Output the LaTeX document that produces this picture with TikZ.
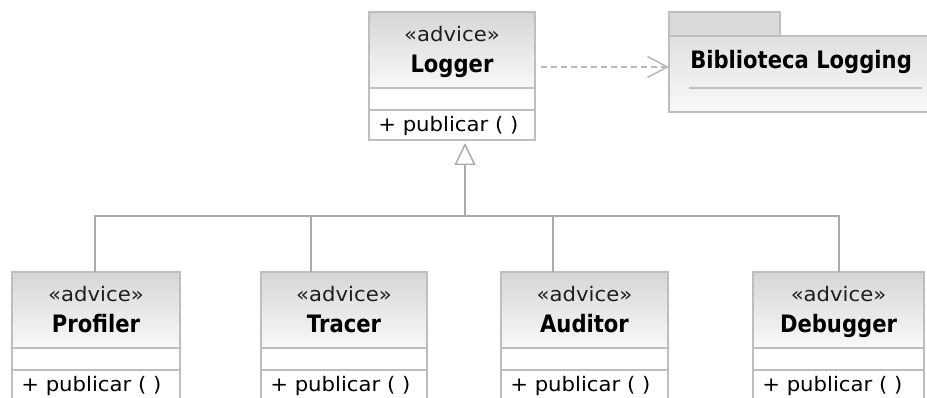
\documentclass[tikz,border=0pt]{standalone}
\usepackage{fontspec}
\setmainfont{DejaVu Sans}
\newfontfamily\regf{DejaVu Sans}[FakeStretch=1.06]
\newfontfamily\boldf{DejaVu Sans}[FakeStretch=0.88]
\usetikzlibrary{arrows.meta,calc}
\definecolor{bordc}{HTML}{BEBEBE}
\definecolor{linec}{HTML}{ABABAB}
\definecolor{depc}{HTML}{B8B8B8}
\definecolor{topc}{HTML}{D6D6D6}
\definecolor{botc}{HTML}{F9F9F9}
\definecolor{pkgtop}{HTML}{E0E0E0}
\definecolor{tabc}{HTML}{D9D9D9}
\definecolor{stc}{HTML}{1E1E1E}
\tikzset{
 boxbase/.style={draw=bordc, line width=1.1pt, inner sep=0pt, outer sep=0pt, anchor=north west},
 hdr/.style={boxbase, top color=topc, bottom color=botc, minimum height=57pt},
 attrc/.style={boxbase, fill=white, minimum height=16.5pt},
 opc/.style={boxbase, fill=white, minimum height=22.5pt},
 stereo/.style={anchor=base, inner sep=0pt, text=stc, font=\regf\fontsize{15pt}{17pt}\selectfont},
 title/.style={anchor=base, inner sep=0pt, font=\boldf\bfseries\fontsize{18pt}{20pt}\selectfont},
 optext/.style={anchor=base west, inner sep=0pt, font=\regf\fontsize{15pt}{17pt}\selectfont},
 genline/.style={draw=linec, line width=1.1pt},
 gentip/.style={-{Triangle[open, length=16.5pt, width=15.75pt, fill=white]}},
 dep/.style={draw=depc, line width=1.1pt, dash pattern=on 4.5pt off 3pt, -{Straight Barb[length=15pt, width=15.75pt]}},
 sepline/.style={draw=bordc, line width=1.1pt},
}
\newcommand\umlclass[5]{%
 \node[hdr, minimum width=#4] (#1) at (#2,#3) {};
 \node[attrc, minimum width=#4] (#1-attr) at (#1.south west) {};
 \node[opc, minimum width=#4] (#1-op) at (#1-attr.south west) {};
 \node[stereo] (#1-st) at ($(#1.north)+(0,30)$) {«advice»};
 \node[title] (#1-ti) at ($(#1.north)+(0,61)$) {#5};
 \node[optext] (#1-optx) at ($(#1-op.north west)+(9,22)$) {+ publicar ( )};
}
\begin{document}
\begin{tikzpicture}[x=0.75pt,y=-0.75pt]
\useasboundingbox (0,0) rectangle (927,398);
\clip (0,0) rectangle (927,398);
\umlclass{logger}{369}{12}{124.5pt}{Logger}
\umlclass{profiler}{12}{272}{126pt}{Profiler}
\umlclass{tracer}{261}{272}{124.5pt}{Tracer}
\umlclass{auditor}{501}{272}{125.25pt}{Auditor}
\umlclass{debugger}{753}{272}{128.25pt}{Debugger}
% package
\node[boxbase, fill=tabc, minimum width=83.25pt, minimum height=18pt] (pkgtab) at (669,12) {};
\node[boxbase, top color=pkgtop, bottom color=botc, minimum width=196pt, minimum height=57pt] (pkg) at (669,36) {};
\node[title, anchor=base west] (pkgname) at ($(pkg.north west)+(21,33)$) {Biblioteca Logging};
\draw[sepline] ($(pkg.north west)+(20,52)$) -- ($(pkg.north west)+(253,52)$);
% dependency
\coordinate (depstart) at ($(logger.north east)+(6,55)$);
\draw[dep] (depstart) -- (depstart -| pkg.west);
% generalization
\coordinate (bus) at (465,216);
\coordinate (jp) at (95,216);
\coordinate (jt) at (311,216);
\coordinate (ja) at (553,216);
\coordinate (jd) at (839,216);
\draw[genline] (jp |- profiler.north) -- (jp) -- (jd) -- (jd |- debugger.north);
\draw[genline] (jt) -- (jt |- tracer.north);
\draw[genline] (ja) -- (ja |- auditor.north);
\draw[genline, gentip] (bus) -- ($(bus |- logger-op.south)+(0,3)$);
\end{tikzpicture}
\end{document}
